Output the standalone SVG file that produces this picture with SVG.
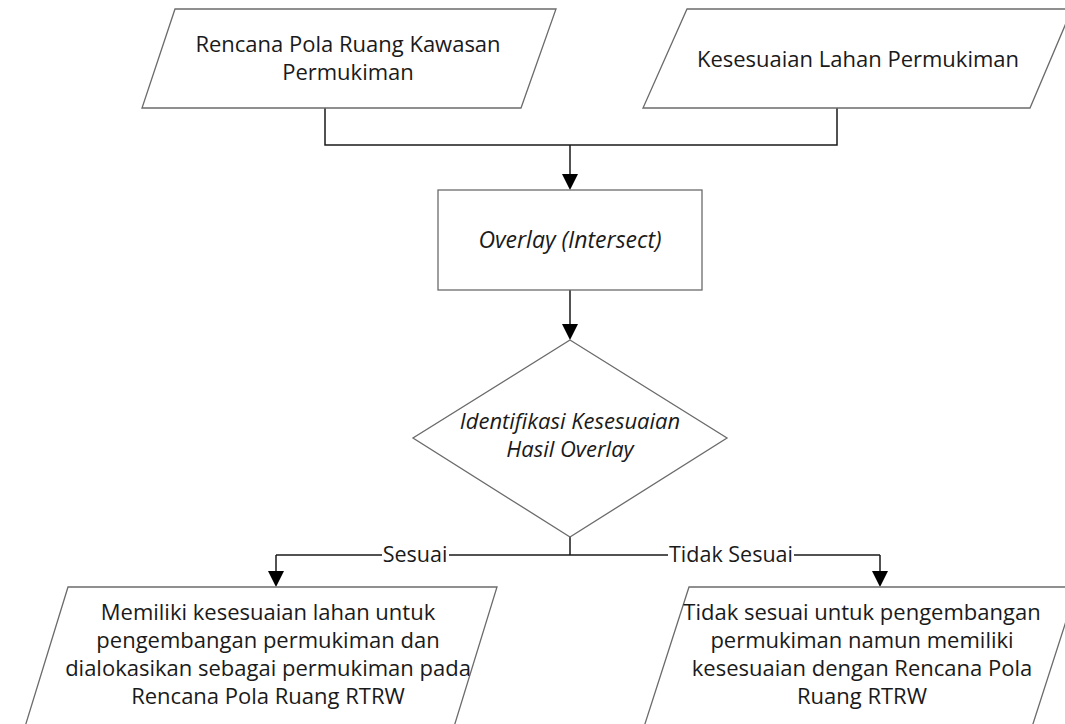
<svg xmlns="http://www.w3.org/2000/svg" width="1065" height="724" viewBox="0 0 1065 724">
<defs>
<style>
.shape{fill:#fff;stroke:#6b6b6b;stroke-width:1.3}
.conn{fill:none;stroke:#1a1a1a;stroke-width:1.5}
.head{fill:#000}
.t{font-family:"Open Sans","Noto Sans",sans-serif;font-size:22px;fill:#1a1a1a;text-anchor:middle}
.i{font-style:italic}
.i23{font-size:23px}
.lbl{font-family:"Open Sans","Noto Sans",sans-serif;font-size:21.5px;fill:#1a1a1a;text-anchor:middle}
</style>
</defs>
<rect width="1065" height="724" fill="#fff"/>
<g id="connectors">
<path class="conn" d="M325,108 V145 H837 V108"/>
<path class="conn" d="M570,145 V176"/>
<path class="head" d="M562,174 L578,174 L570,190 Z"/>
<path class="conn" d="M570,290 V326"/>
<path class="head" d="M562,324 L578,324 L570,340 Z"/>
<path class="conn" d="M570,537 V555 M276,555 H880 M276,555 V573 M880,555 V573"/>
<path class="head" d="M268,571 L284,571 L276,587 Z"/>
<path class="head" d="M872,571 L888,571 L880,587 Z"/>
<rect x="382" y="543" width="67" height="24" fill="#fff"/>
<text class="lbl" x="415" y="562">Sesuai</text>
<rect x="668" y="543" width="126" height="24" fill="#fff"/>
<text class="lbl" x="731" y="562">Tidak Sesuai</text>
</g>
<g id="n1">
<polygon class="shape" points="175,9 556,9 521,108 142,108"/>
<text class="t" x="348" y="52">Rencana Pola Ruang Kawasan</text>
<text class="t" x="348" y="80">Permukiman</text>
</g>
<g id="n2">
<polygon class="shape" points="687,9 1072,9 1030,108 643,108"/>
<text class="t" x="858" y="67">Kesesuaian Lahan Permukiman</text>
</g>
<g id="n3">
<rect class="shape" x="438" y="190" width="264" height="100"/>
<text class="t i i23" x="570" y="248">Overlay (Intersect)</text>
</g>
<g id="n4">
<polygon class="shape" points="570,340 727,438 570,537 413,438"/>
<text class="t i" x="570" y="429">Identifikasi Kesesuaian</text>
<text class="t i" x="570" y="457">Hasil Overlay</text>
</g>
<g id="n5">
<polygon class="shape" points="68,587 497,587 453,730 24,730"/>
<text class="t" x="268" y="620">Memiliki kesesuaian lahan untuk</text>
<text class="t" x="268" y="648">pengembangan permukiman dan</text>
<text class="t" x="268" y="676">dialokasikan sebagai permukiman pada</text>
<text class="t" x="268" y="704">Rencana Pola Ruang RTRW</text>
</g>
<g id="n6">
<polygon class="shape" points="689,587 1077,587 1031,730 643,730"/>
<text class="t" x="862" y="620">Tidak sesuai untuk pengembangan</text>
<text class="t" x="862" y="648">permukiman namun memiliki</text>
<text class="t" x="862" y="676">kesesuaian dengan Rencana Pola</text>
<text class="t" x="862" y="704">Ruang RTRW</text>
</g>
</svg>
